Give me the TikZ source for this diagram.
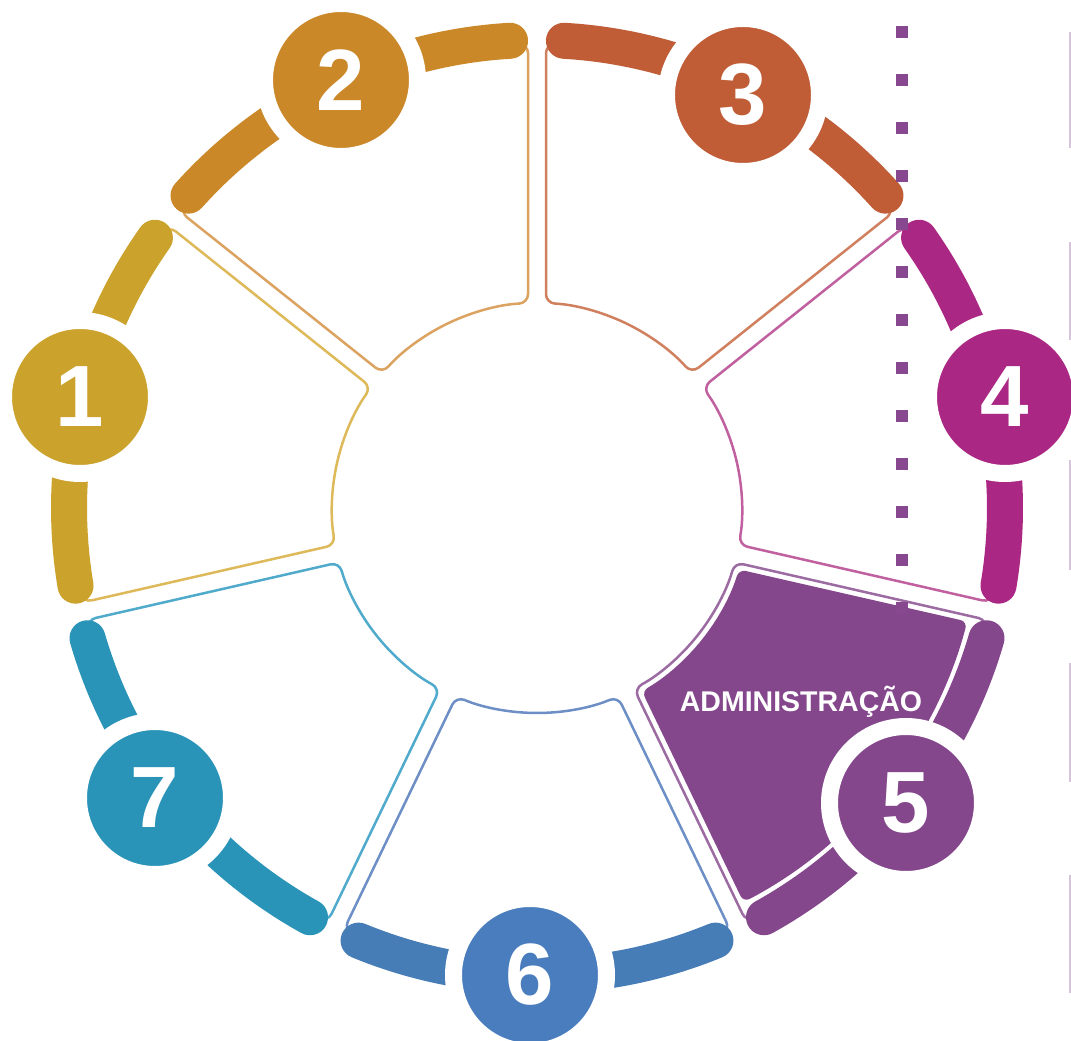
\documentclass[tikz,border=0pt]{standalone}
\usepackage{fontspec}
\setmainfont{Liberation Sans}
\definecolor{cA}{HTML}{CBA22B}\definecolor{cAl}{HTML}{DDB95A}
\definecolor{cB}{HTML}{CA8829}\definecolor{cBl}{HTML}{DBA260}
\definecolor{cC}{HTML}{C05C36}\definecolor{cCl}{HTML}{D0805F}
\definecolor{cD}{HTML}{AA2884}\definecolor{cDl}{HTML}{C0609F}
\definecolor{cE}{HTML}{84478C}\definecolor{cEl}{HTML}{9B6BA2}
\definecolor{cF}{HTML}{477DB7}\definecolor{cFc}{HTML}{4A7DBD}\definecolor{cFl}{HTML}{6D8FC6}
\definecolor{cG}{HTML}{2A93B8}\definecolor{cGl}{HTML}{50AACB}
\definecolor{dotc}{HTML}{87488F}
\definecolor{edgec}{HTML}{D6C4DB}
\newcommand\wseg[6]{%
  \pgfmathsetmacro\wao{asin(#3/#5)}%
  \pgfmathsetmacro\wai{asin(#3/#4)}%
  \pgfmathsetmacro\wM{(#1+#2)/2}%
  \pgfmathsetmacro\wA{#2-\wao}\pgfmathsetmacro\wB{#2-\wai}%
  \pgfmathsetmacro\wC{#1+\wai}\pgfmathsetmacro\wD{#1+\wao}%
  \path[#6] (\wM:#4) arc[start angle=\wM, end angle=\wC, radius=#4]
    -- (\wD:#5) arc[start angle=\wD, end angle=\wA, radius=#5] -- (\wB:#4)
    arc[start angle=\wB, end angle=\wM, radius=#4];}
\newcommand\warc[3]{%
  \pgfmathsetmacro\wS{#1+3.3}\pgfmathsetmacro\wE{#2-3.3}%
  \draw[thickarc, #3] (\wS:468) arc[start angle=\wS, end angle=\wE, radius=468];}
\tikzset{
  outl/.style={draw=#1, line width=2.5pt, rounded corners=9pt, line cap=round},
  thickarc/.style={line width=36pt, line cap=round},
  numc/.style={circle, fill=#1, draw=white, line width=17pt, minimum size=153pt,
    inner sep=0pt, text=white, font=\bfseries\fontsize{87}{87}\selectfont},
  lab/.style={text=white, font=\bfseries\fontsize{28.5}{28.5}\selectfont},
  sq/.style={fill=dotc},
  edge/.style={draw=edgec, line width=2pt}
}
\begin{document}
\begin{tikzpicture}[x=1pt,y=1pt]
\useasboundingbox (0,0) rectangle (1071,1041);
\fill[white] (0,0) rectangle (1071,1041);
\begin{scope}[shift={(537,533)}]
  % segment outlines
  \wseg{90}{141.4286}{9}{205}{464}{outl=cBl}
  \wseg{141.4286}{192.8571}{9}{205}{464}{outl=cAl}
  \wseg{192.8571}{244.2857}{9}{205}{464}{outl=cGl}
  \wseg{244.2857}{295.7143}{9}{205}{464}{outl=cFl}
  \wseg{295.7143}{347.1429}{9}{205}{464}{outl=cEl}
  \wseg{347.1429}{398.5714}{9}{205}{464}{outl=cDl}
  \wseg{398.5714}{450}{9}{205}{464}{outl=cCl}
  % filled segment 5
  \wseg{295.7143}{347.1429}{15}{211}{445}{fill=cE, rounded corners=7pt}
  % thick outer arcs
  \warc{90}{141.4286}{cB}
  \warc{141.4286}{192.8571}{cA}
  \warc{192.8571}{244.2857}{cG}
  \warc{244.2857}{295.7143}{cF}
  \warc{295.7143}{347.1429}{cE}
  \warc{347.1429}{398.5714}{cD}
  \warc{398.5714}{450}{cC}
\end{scope}
% number circles
\node[numc=cA] (n1) at (80,644) {1};
\node[numc=cB] (n2) at (341,961) {2};
\node[numc=cC] (n3) at (743,946) {3};
\node[numc=cD] (n4) at (1005,644) {4};
\node[numc=cE] (n5) at (906,238) {5};
\node[numc=cFc] (n6) at (530,66) {6};
\node[numc=cG] (n7) at (155,243) {7};
\node[lab] (adm) at (801,339) {ADMINISTRAÇÃO};
% dotted vertical line
\foreach \k in {0,...,12}{
  \pgfmathsetmacro\yy{1009-48*\k}
  \fill[sq] (896,\yy-6) rectangle (908,\yy+6);
}
% faint right edge lines
\foreach \a/\b in {893/1009, 701/799, 471/581, 259/378, 48/166}{
  \draw[edge] (1070,\a) -- (1070,\b);
}
\end{tikzpicture}
\end{document}
